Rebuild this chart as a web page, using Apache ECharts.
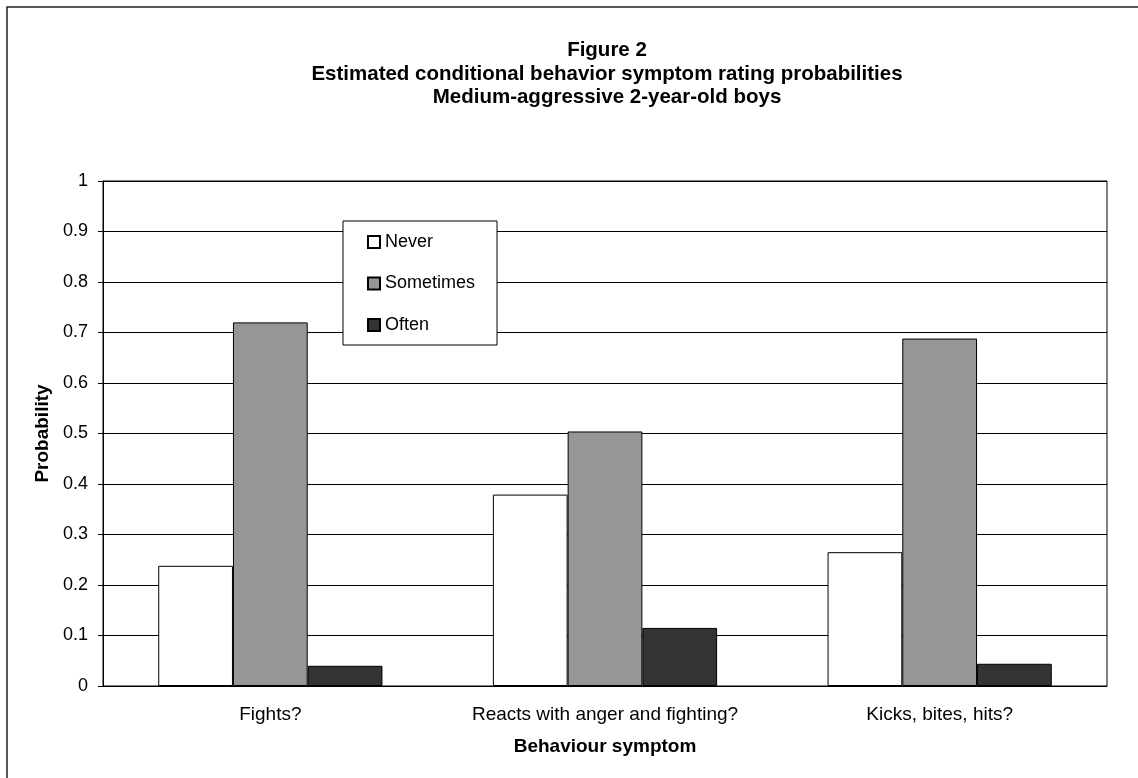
<!DOCTYPE html>
<html>
<head>
<meta charset="utf-8">
<title>Figure 2</title>
<script src="https://cdn.jsdelivr.net/npm/echarts@6/dist/echarts.min.js"></script>
<style>
  html, body { margin: 0; padding: 0; background: #ffffff; }
  #chart { width: 1138px; height: 778px; }
</style>
</head>
<body>
<div id="chart"></div>
<script>
// Behaviour items rated for the medium-aggressive class
const categories = ['Fights?', 'Reacts with anger and fighting?', 'Kicks, bites, hits?'];

// Estimated probability of each rating per item
const never     = [0.238, 0.379, 0.265];
const sometimes = [0.720, 0.504, 0.688];
const often     = [0.040, 0.115, 0.044];

const seriesNames = ['Never', 'Sometimes', 'Often'];
const titleLines = [
  'Figure 2',
  'Estimated conditional behavior symptom rating probabilities',
  'Medium-aggressive 2-year-old boys'
];
const yTicks = [0, 0.1, 0.2, 0.3, 0.4, 0.5, 0.6, 0.7, 0.8, 0.9, 1];

const FONT = '"Liberation Sans", Arial, Helvetica, sans-serif';
const fills = ['#ffffff', '#969696', '#333333'];
const values = [never, sometimes, often];

const chart = echarts.init(document.getElementById('chart'), null, { renderer: 'canvas' });

chart.setOption({
  backgroundColor: '#ffffff',
  animation: false,
  textStyle: { fontFamily: FONT, color: '#000' },
  title: {
    text: titleLines.join('\n'),
    left: 602,
    top: 34,
    textAlign: 'center',
    textStyle: { fontFamily: FONT, fontSize: 20.5, fontWeight: 'bold', color: '#000', lineHeight: 23.5 }
  },
  graphic: [{
    type: 'rect',
    shape: { x: 7, y: 7, width: 1300, height: 900 },
    style: { fill: 'none', stroke: '#222', lineWidth: 1.5 },
    silent: true,
    z: 0
  }],
  legend: {
    orient: 'vertical',
    left: 343,
    top: 221,
    data: seriesNames,
    icon: 'rect',
    itemWidth: 12,
    itemHeight: 12,
    itemGap: 23.5,
    itemTextGap: 4,
    padding: [12, 22, 11, 24],
    backgroundColor: '#ffffff',
    borderColor: '#000',
    borderWidth: 1,
    borderRadius: 0,
    textStyle: { fontFamily: FONT, fontSize: 18, color: '#000' }
  },
  grid: {
    left: 103,
    right: 31,
    top: 181,
    bottom: 92,
    show: true,
    borderColor: '#000',
    borderWidth: 1,
    backgroundColor: 'transparent',
    containLabel: false
  },
  xAxis: {
    type: 'category',
    data: categories,
    name: 'Behaviour symptom',
    nameLocation: 'middle',
    nameGap: 51,
    nameTextStyle: { fontFamily: FONT, fontSize: 19, fontWeight: 'bold', color: '#000' },
    axisLine: { lineStyle: { color: '#000', width: 1 } },
    axisTick: { show: false },
    axisLabel: { fontFamily: FONT, fontSize: 19, color: '#000', margin: 19, interval: 0, hideOverlap: false },
    splitLine: { show: false }
  },
  yAxis: {
    type: 'value',
    min: yTicks[0],
    max: yTicks[yTicks.length - 1],
    interval: 0.1,
    name: 'Probability',
    nameLocation: 'middle',
    nameGap: 51,
    nameTextStyle: { fontFamily: FONT, fontSize: 19, fontWeight: 'bold', color: '#000' },
    axisLine: { show: true, lineStyle: { color: '#000', width: 1 } },
    axisTick: { show: true, inside: false, length: 5, lineStyle: { color: '#000' } },
    axisLabel: {
      fontFamily: FONT, fontSize: 18, color: '#000', margin: 15,
      formatter: v => String(Math.round(v * 10) / 10)
    },
    splitLine: { show: true, lineStyle: { color: '#000', width: 1 } }
  },
  series: seriesNames.map((name, i) => ({
    name: name,
    type: 'bar',
    data: values[i],
    barGap: '0%',
    barCategoryGap: '33%',
    itemStyle: { color: fills[i], borderColor: '#000', borderWidth: 1 },
    emphasis: { disabled: true }
  }))
});
</script>
</body>
</html>
